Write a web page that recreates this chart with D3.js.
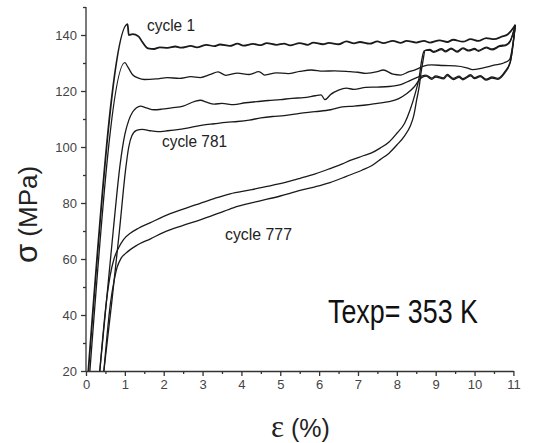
<!DOCTYPE html>
<html>
<head>
<meta charset="utf-8">
<script src="https://cdn.jsdelivr.net/npm/d3@7"></script>
<style>
  body { margin: 0; background: #fff; }
  svg { display: block; }
</style>
</head>
<body>
<div id="chart"></div>
<script>
// strain (%) / stress (MPa), one array per curve
var cycle1 = [[0.06,20],[1.07,143.9],[1.1,140],[1.2,140.3],[1.35,139.5],[1.45,137.5],[1.6,135.2],[1.75,135],[1.9,135.6],[2.1,135.4],[2.3,135.9],[2.45,135.5],[2.7,136.1],[2.85,135.6],[3.1,136.5],[3.3,136],[3.45,136.6],[3.7,136.1],[3.9,136.9],[4.05,136.2],[4.3,136.8],[4.5,136.4],[4.65,137.1],[4.9,136.5],[5.1,136.9],[5.25,136.3],[5.5,137.1],[5.7,136.5],[5.85,137.3],[6.1,136.7],[6.25,137.2],[6.5,136.7],[6.7,137.7],[6.9,137],[7.05,137.5],[7.3,136.9],[7.5,137.7],[7.65,137.1],[7.9,137.9],[8.1,137.2],[8.25,137.9],[8.5,137.3],[8.7,137.9],[8.85,137.3],[9.1,138.1],[9.3,137.5],[9.45,138.3],[9.7,137.6],[9.9,138.5],[10.1,137.9],[10.3,138.9],[10.5,138.5],[10.7,139.4],[10.85,140.2],[11.05,143.6]];

var cycleB = [[0.1,20],[1.0,130.1],[1.08,128.5],[1.2,125.8],[1.35,124.6],[1.5,124.1],[1.8,124.3],[2.1,124.8],[2.4,124.5],[2.7,125.1],[2.94,124.8],[3.2,125.9],[3.4,126.8],[3.6,125.6],[3.9,126.4],[4.2,125.9],[4.45,126.9],[4.6,125.7],[4.9,126.5],[5.2,126.2],[5.5,127],[5.8,127.5],[6.1,127.1],[6.4,127.2],[6.8,126.9],[7.0,126.7],[7.2,126.3],[7.5,126.9],[7.65,127.5],[7.9,126],[8.1,125.7],[8.3,126.8],[8.5,127.7],[8.67,128.8],[8.9,129.3],[9.2,129.1],[9.5,129],[9.8,128.3],[9.95,127.6],[10.2,128.2],[10.5,129.2],[10.75,130],[10.9,131.2],[11.05,143.6]];

var cycleC = [[0.355,20],[0.53,45.4],[0.7,70],[0.88,94],[1.0,104.5],[1.1,109.5],[1.2,112.5],[1.3,114],[1.4,114.6],[1.55,114],[1.75,113.3],[1.95,113.5],[2.2,114],[2.5,114.6],[2.8,116.3],[2.95,116.7],[3.1,116],[3.3,115.3],[3.5,115.6],[3.8,115.1],[4.1,115.8],[4.4,116.2],[4.7,116.6],[5.0,116.9],[5.3,117.4],[5.6,117.6],[5.9,118.3],[6.05,118.6],[6.15,116.9],[6.3,118.8],[6.5,120.3],[6.7,121],[6.9,120.6],[7.2,121.3],[7.5,121.4],[7.8,121.6],[8.1,122.3],[8.35,123.8],[8.6,125.2],[8.75,125.7],[8.9,124.6],[9.0,125.4],[9.2,124.7],[9.3,125.9],[9.45,124.5],[9.6,125.3],[9.7,124.4],[9.9,125.8],[10.0,124.8],[10.15,125.5],[10.3,124.2],[10.45,125],[10.6,124.5],[10.78,126.9],[10.92,130.5],[11.05,143.6]];

var cycleD = [[0.46,20],[0.67,45.4],[0.86,70],[1.02,92],[1.1,100],[1.18,104],[1.3,105.9],[1.45,106.3],[1.65,105.8],[1.85,105.5],[2.1,105.8],[2.4,106.3],[2.7,107],[3.0,107.8],[3.3,108.3],[3.6,108.8],[3.9,109.1],[4.2,109.6],[4.5,110.4],[4.8,110.9],[5.1,111.2],[5.5,112],[5.9,112.6],[6.3,113.3],[6.6,114.3],[6.9,114.6],[7.2,115],[7.5,115.6],[7.8,116.2],[8.05,117.3],[8.25,119],[8.45,121.5],[8.62,124.6],[8.75,125.3],[8.9,124.2],[9.0,125],[9.2,124.3],[9.3,125.5],[9.45,124.1],[9.6,124.9],[9.7,124],[9.9,125.4],[10.0,124.4],[10.15,125.1],[10.3,123.9],[10.45,124.6],[10.6,124.2],[10.78,126.5],[10.92,130.2],[11.05,143.6]];

var cycle777a = [[0.355,20],[0.53,45.4],[0.62,54],[0.72,60],[0.84,64],[0.97,67],[1.15,69.3],[1.35,71],[1.66,73],[2.0,75.2],[2.5,77.8],[2.94,79.9],[3.3,81.6],[3.71,83.3],[4.2,84.6],[4.7,86],[5.2,87.6],[5.51,88.8],[5.9,90.4],[6.28,92.3],[6.6,94],[6.8,95.2],[7.1,96.7],[7.35,97.9],[7.57,99.6],[7.8,101.8],[8.0,104.9],[8.2,108.5],[8.34,113.2],[8.47,119],[8.57,124.5],[8.64,131],[8.7,134.3],[8.85,134.9],[8.95,134.1],[9.15,135.1],[9.25,134.3],[9.4,135.3],[9.55,134.2],[9.7,135.4],[9.85,134.6],[10.0,135.2],[10.1,134.5],[10.3,135.7],[10.45,135],[10.65,136.2],[10.8,136.5],[10.92,138],[11.05,143.6]];

var cycle777b = [[0.46,20],[0.63,44.3],[0.72,52],[0.8,57],[0.9,60.2],[1.02,62],[1.32,65],[1.66,67.2],[2.0,69.5],[2.5,72],[2.94,74],[3.4,76.3],[3.79,78.3],[4.4,80.5],[5.0,82.5],[5.51,84.5],[5.9,85.8],[6.28,87.3],[6.7,89.5],[7.1,91.7],[7.35,93.3],[7.57,95.5],[7.8,97.8],[8.0,100.7],[8.2,104],[8.34,107.3],[8.44,111.5],[8.51,116.8],[8.58,122],[8.62,126.3],[8.67,130.5],[8.73,134.5],[8.85,134.5],[8.95,133.8],[9.15,134.8],[9.25,134],[9.4,135],[9.55,133.9],[9.7,135.1],[9.85,134.3],[10.0,134.9],[10.1,134.2],[10.3,135.4],[10.45,134.7],[10.65,135.9],[10.8,136.2],[10.92,137.7],[11.05,143.6]];

var xTicks = [0,1,2,3,4,5,6,7,8,9,10,11];
var yTicks = [20,40,60,80,100,120,140];

var width = 538, height = 443;

var svg = d3.select("#chart")
  .append("svg")
    .attr("width", width)
    .attr("height", height);

var x = d3.scaleLinear().domain([0, 11]).range([86, 513.4]);
var y = d3.scaleLinear().domain([20, 150]).range([371, 7]);

// minor ticks first, then the labelled axes on top
svg.append("g")
  .attr("transform", "translate(0,371)")
  .call(d3.axisBottom(x).tickValues(d3.range(0.5, 11, 1)).tickSize(3).tickFormat(""))
  .call(function(g) { g.select(".domain").remove(); });

svg.append("g")
  .attr("transform", "translate(86,0)")
  .call(d3.axisLeft(y).tickValues(d3.range(30, 151, 20)).tickSize(3).tickFormat(""))
  .call(function(g) { g.select(".domain").remove(); });

var xAxis = svg.append("g")
  .attr("transform", "translate(0,371)")
  .call(d3.axisBottom(x).tickValues(xTicks).tickSize(5).tickSizeOuter(0).tickPadding(4));

var yAxis = svg.append("g")
  .attr("transform", "translate(86,0)")
  .call(d3.axisLeft(y).tickValues(yTicks).tickSize(5).tickSizeOuter(0).tickPadding(4));

// stretch the y axis line up to 150
yAxis.select(".domain").attr("d", "M0," + y(150) + "V" + y(20));

svg.selectAll(".tick line, .domain").attr("stroke", "#333").attr("stroke-width", 1.3);
svg.selectAll(".tick text")
  .attr("font-family", "Liberation Sans, Arial, sans-serif")
  .attr("font-size", 13)
  .attr("fill", "#444");

var line = d3.line()
  .x(function(d) { return x(d[0]); })
  .y(function(d) { return y(d[1]); })
  .curve(d3.curveMonotoneX);

var curves = [
  {data: cycle1, w: 1.8},
  {data: cycleB, w: 1.3},
  {data: cycleC, w: 1.3},
  {data: cycleD, w: 1.3},
  {data: cycle777a, w: 1.3},
  {data: cycle777b, w: 1.3}
];

svg.append("g")
  .selectAll("path")
  .data(curves)
  .enter()
  .append("path")
    .attr("d", function(d) { return line(d.data); })
    .attr("fill", "none")
    .attr("stroke", "#1a1a1a")
    .attr("stroke-width", function(d) { return d.w; })
    .attr("stroke-linejoin", "round");

// curve labels (narrow face in the original, so squeeze to the measured width)
var labelFont = "Liberation Sans, Arial, sans-serif";
function label(txt, lx, ly, size, len, col) {
  svg.append("text")
    .attr("x", lx).attr("y", ly)
    .attr("font-family", labelFont)
    .attr("font-size", size)
    .attr("fill", col)
    .attr("textLength", len)
    .attr("lengthAdjust", "spacingAndGlyphs")
    .text(txt);
}
label("cycle 1", 147, 31, 17, 48, "#222");
label("cycle 781", 162, 147, 17, 65, "#222");
label("cycle 777", 225, 240, 17, 67, "#222");
label("Texp= 353 K", 328, 323, 34, 150, "#111");

// axis titles, the greek letters come out bigger than the rest
var xt = svg.append("text")
  .attr("x", 271).attr("y", 437)
  .attr("font-size", 25)
  .attr("fill", "#222");
xt.append("tspan").attr("font-family", "Liberation Serif, Times New Roman, serif")
  .attr("font-size", 31).text("ε");
xt.append("tspan").attr("font-family", "Liberation Sans, Arial, sans-serif").text(" (%)");

var yt = svg.append("text")
  .attr("transform", "translate(37,263) rotate(-90)")
  .attr("font-family", "Liberation Sans, Arial, sans-serif")
  .attr("font-size", 26)
  .attr("fill", "#222");
yt.append("tspan").attr("font-size", 31).text("σ");
yt.append("tspan").text(" (MPa)");
</script>
</body>
</html>
